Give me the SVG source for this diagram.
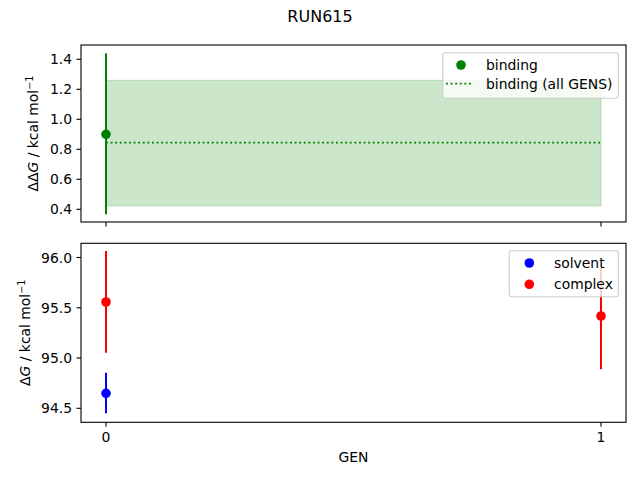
<svg xmlns="http://www.w3.org/2000/svg" width="640" height="480" viewBox="0 0 640 480">
<style>
text{font-family:"DejaVu Sans","Liberation Sans",sans-serif;fill:#000}
.tk{font-size:13.9px}
.tl{font-size:13.9px;text-anchor:end}
.ax{fill:none;stroke:#000;stroke-width:1.1}
.tick{stroke:#000;stroke-width:1.1}
.lg{fill:#fff;fill-opacity:0.8;stroke:#ccc;stroke-width:1.1}
.dot{stroke:#008000;stroke-width:1.8;stroke-dasharray:1.9 2.7}
</style>
<rect width="640" height="480" fill="#fff"/>
<text x="320" y="22" font-size="16px" text-anchor="middle">RUN615</text>

<g id="top-axes">
<rect x="106" y="80.3" width="495" height="125.7" fill="#008000" fill-opacity="0.2" stroke="#008000" stroke-opacity="0.2" stroke-width="1"/>
<line x1="106" y1="142.7" x2="601" y2="142.7" class="dot"/>
<line x1="106" y1="53.3" x2="106" y2="214.3" stroke="#008000" stroke-width="2"/>
<circle cx="106" cy="134.3" r="4.8" fill="#008000"/>
<rect x="81" y="45" width="545" height="177" class="ax"/>
<g class="tick">
<line x1="76.5" y1="59.3" x2="81" y2="59.3"/><line x1="76.5" y1="89.3" x2="81" y2="89.3"/><line x1="76.5" y1="119.3" x2="81" y2="119.3"/><line x1="76.5" y1="149.3" x2="81" y2="149.3"/><line x1="76.5" y1="179.3" x2="81" y2="179.3"/><line x1="76.5" y1="209.3" x2="81" y2="209.3"/>
<line x1="106" y1="222" x2="106" y2="226.5"/><line x1="601" y1="222" x2="601" y2="226.5"/>
</g>
<text class="tl" x="72" y="64.3">1.4</text>
<text class="tl" x="72" y="94.3">1.2</text>
<text class="tl" x="72" y="124.3">1.0</text>
<text class="tl" x="72" y="154.3">0.8</text>
<text class="tl" x="72" y="184.3">0.6</text>
<text class="tl" x="72" y="214.3">0.4</text>
<text transform="translate(38,133.5) rotate(-90)" class="tk" text-anchor="middle">ΔΔ<tspan font-style="italic">G</tspan> / kcal mol<tspan font-size="9.7px" dy="-5">−1</tspan></text>
<g id="legend-top">
<rect class="lg" x="442.7" y="52.7" width="175.6" height="45.6" rx="2.5"/>
<circle cx="461" cy="65" r="4.8" fill="#008000"/>
<line x1="446" y1="83.7" x2="472" y2="83.7" class="dot"/>
<text class="tk" x="486" y="70">binding</text>
<text class="tk" x="486" y="88.5">binding (all GENS)</text>
</g>
</g>

<g id="bottom-axes">
<line x1="106" y1="251" x2="106" y2="352.7" stroke="#ff0000" stroke-width="2"/>
<circle cx="106" cy="302" r="4.8" fill="#ff0000"/>
<line x1="106" y1="372.7" x2="106" y2="413.3" stroke="#0000ff" stroke-width="2"/>
<circle cx="106" cy="393.3" r="4.8" fill="#0000ff"/>
<line x1="601" y1="264" x2="601" y2="369.3" stroke="#ff0000" stroke-width="2"/>
<circle cx="601" cy="316" r="4.8" fill="#ff0000"/>
<rect x="81" y="243.3" width="545" height="179" class="ax"/>
<g class="tick">
<line x1="76.5" y1="257.5" x2="81" y2="257.5"/><line x1="76.5" y1="307.8" x2="81" y2="307.8"/><line x1="76.5" y1="358" x2="81" y2="358"/><line x1="76.5" y1="408.3" x2="81" y2="408.3"/>
<line x1="106" y1="422.3" x2="106" y2="426.8"/><line x1="601" y1="422.3" x2="601" y2="426.8"/>
</g>
<text class="tl" x="72" y="262.5">96.0</text>
<text class="tl" x="72" y="312.8">95.5</text>
<text class="tl" x="72" y="363">95.0</text>
<text class="tl" x="72" y="413.3">94.5</text>
<text transform="translate(30,332.7) rotate(-90)" class="tk" text-anchor="middle">Δ<tspan font-style="italic">G</tspan> / kcal mol<tspan font-size="9.7px" dy="-5">−1</tspan></text>
<text class="tk" x="106" y="441.7" text-anchor="middle">0</text>
<text class="tk" x="601" y="441.7" text-anchor="middle">1</text>
<text class="tk" x="353.5" y="462" text-anchor="middle">GEN</text>
<g id="legend-bottom">
<rect class="lg" x="509.3" y="250.7" width="109" height="46" rx="2.5"/>
<circle cx="529.3" cy="263" r="4.8" fill="#0000ff"/>
<circle cx="529.3" cy="284.3" r="4.8" fill="#ff0000"/>
<text class="tk" x="554" y="268">solvent</text>
<text class="tk" x="554" y="289.3">complex</text>
</g>
</g>
</svg>
